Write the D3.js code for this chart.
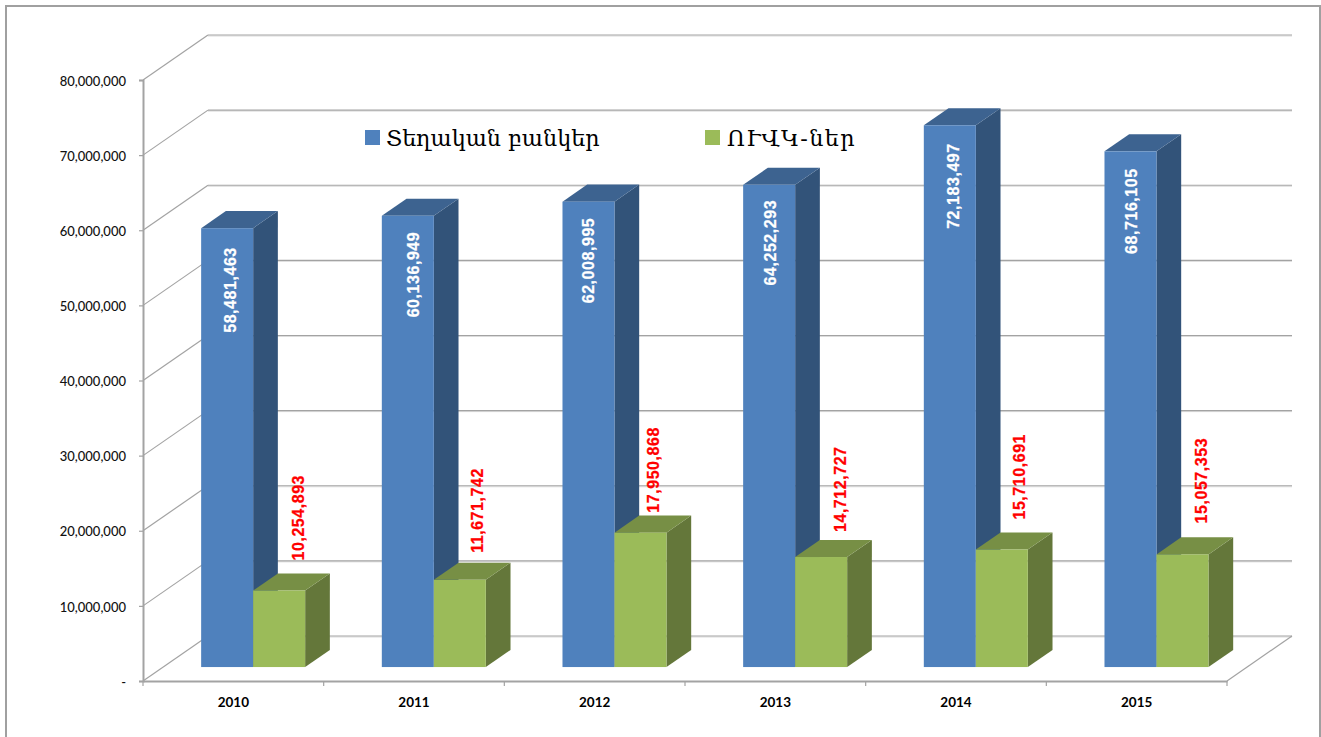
<!DOCTYPE html>
<html>
<head>
<meta charset="utf-8">
<script src="https://cdn.jsdelivr.net/npm/d3@7"></script>
<style>
  html, body { margin: 0; padding: 0; background: #fff; overflow: hidden; }
  svg { display: block; }
</style>
</head>
<body>
<div id="chart"></div>
<script>
const years = ['2010', '2011', '2012', '2013', '2014', '2015'];
const localBanks = [58481463, 60136949, 62008995, 64252293, 72183497, 68716105];
const foreignBanks = [10254893, 11671742, 17950868, 14712727, 15710691, 15057353];
const seriesNames = ['Տեղական բանկեր', 'ՈՒՎԿ-ներ'];
const yTicks = [0, 10000000, 20000000, 30000000, 40000000, 50000000, 60000000, 70000000, 80000000];

const svg = d3.select('#chart').append('svg')
  .attr('width', 1321)
  .attr('height', 737);

// Scales. The depth scale gives the oblique shift of the 3D box
const y = d3.scaleLinear().domain([0, 80000000]).range([681, 80]);
const x = d3.scaleBand().domain(years).range([143, 1227]).paddingInner(0).paddingOuter(0);
const depthX = d3.scaleLinear().domain([0, 1]).range([0, 65]);
const depthY = d3.scaleLinear().domain([0, 1]).range([0, -45]);

const gridColor = '#a3a3a3';
const barWidth = 52;
const zFront = 0.31, zBack = 0.69;

// Outer frame, runs off the bottom of the page
svg.append('path')
  .attr('d', 'M6,740V6H1320V740')
  .attr('fill', 'none')
  .attr('stroke', '#a0a0a0')
  .attr('stroke-width', 2);

// Back wall gridlines with the diagonal on the side wall
yTicks.forEach(t => {
  const backY = y(t) + depthY(1);
  const backX = 143 + depthX(1);
  svg.append('line')
    .attr('x1', backX).attr('x2', 1227 + depthX(1))
    .attr('y1', backY + 1).attr('y2', backY + 1)
    .attr('stroke', '#dcdcdc').attr('stroke-width', 1);
  svg.append('line')
    .attr('x1', backX).attr('x2', 1227 + depthX(1))
    .attr('y1', backY).attr('y2', backY)
    .attr('stroke', gridColor).attr('stroke-width', 1.2);
  svg.append('line')
    .attr('x1', 143).attr('x2', backX)
    .attr('y1', y(t)).attr('y2', backY)
    .attr('stroke', gridColor).attr('stroke-width', 1.2);
});

// Right edge of the floor
svg.append('line')
  .attr('x1', 1227).attr('y1', y(0))
  .attr('x2', 1227 + depthX(1)).attr('y2', y(0) + depthY(1))
  .attr('stroke', gridColor).attr('stroke-width', 1.2);

// Axes
const yAxis = svg.append('g')
  .attr('transform', 'translate(143,0)')
  .call(d3.axisLeft(y).tickValues(yTicks).tickSize(4).tickPadding(13)
    .tickFormat(d => d === 0 ? '-' : d3.format(',')(d)));
yAxis.selectAll('text')
  .attr('dy', '0.4em')
  .style('font-family', 'Lato, sans-serif')
  .style('font-size', '13px')
  .style('font-weight', 500)
  .attr('fill', '#111');

const xAxis = svg.append('g')
  .attr('transform', 'translate(0,681)')
  .call(d3.axisBottom(x).tickSizeOuter(0).tickSize(0).tickPadding(16));
xAxis.selectAll('text')
  .style('font-family', 'Lato, sans-serif')
  .style('font-size', '13.5px')
  .style('font-weight', 'bold')
  .attr('fill', '#000');
years.concat('end').forEach((d, i) => {
  const tx = 143 + i * x.step();
  xAxis.append('line')
    .attr('x1', tx).attr('x2', tx).attr('y1', 0).attr('y2', 5)
    .attr('stroke', gridColor).attr('stroke-width', 1.2);
});
svg.selectAll('.domain')
  .attr('stroke', gridColor).attr('stroke-width', 2);
yAxis.selectAll('.tick line').attr('stroke', gridColor).attr('stroke-width', 1.2);

// One 3D box: side, top, then front face
function box(left, value, colors) {
  const dx0 = depthX(zFront), dx1 = depthX(zBack);
  const dy0 = depthY(zFront), dy1 = depthY(zBack);
  const xl = left + dx0, xr = xl + barWidth;
  const shift = dx1 - dx0;
  const top = y(value) + dy0 + 0.5, bottom = y(0) + dy0;
  const rise = dy1 - dy0;
  const g = svg.append('g');
  g.append('path')
    .attr('d', `M${xr},${top}L${xr + shift},${top + rise}V${bottom + rise}L${xr},${bottom}Z`)
    .attr('fill', colors[2]);
  g.append('path')
    .attr('d', `M${xl},${top}L${xl + shift},${top + rise}H${xr + shift}L${xr},${top}Z`)
    .attr('fill', colors[1]);
  g.append('rect')
    .attr('x', xl).attr('y', top)
    .attr('width', barWidth).attr('height', bottom - top)
    .attr('fill', colors[0]);
  return { xl, xr, top };
}

const blue = ['#4f81bd', '#3d6390', '#325379'];
const green = ['#9bbb59', '#778f45', '#64773a'];
// Excel's auto layout moved the data labels a little per column
const whiteDrop = [19, 16, 16, 15, 18, 17];
const whiteShift = [34.5, 37.5, 32, 32.5, 34.7, 33];
const redLift = [30, 27, 20, 25, 30, 31];
const redShift = [50.5, 48.7, 45, 50.5, 48.7, 51];

function dataLabel(px, py, anchor, color, value) {
  svg.append('text')
    .attr('transform', `translate(${px},${py}) rotate(-90)`)
    .attr('text-anchor', anchor)
    .style('font-family', '"Liberation Sans", Arial, sans-serif')
    .style('font-size', '16px')
    .style('font-weight', 'bold')
    .style('letter-spacing', '0.55px')
    .style('stroke', color)
    .style('stroke-width', 0.25)
    .attr('fill', color)
    .text(d3.format(',')(value));
}

years.forEach((yr, i) => {
  const left = x(yr) + 38;
  const a = box(left, localBanks[i], blue);
  const b = box(left + barWidth, foreignBanks[i], green);
  dataLabel(a.xl + whiteShift[i], a.top + whiteDrop[i], 'end', '#fff', localBanks[i]);
  dataLabel(b.xl + redShift[i], b.top - redLift[i], 'start', '#ff0000', foreignBanks[i]);
});

// Legend
[[365, 386, blue[0], 0], [705, 727, green[0], 1.4]].forEach((d, i) => {
  svg.append('rect')
    .attr('x', d[0]).attr('y', 130)
    .attr('width', 15).attr('height', 15)
    .attr('fill', d[2]);
  svg.append('text')
    .attr('x', d[1]).attr('y', 146)
    .style('font-family', '"DejaVu Serif", serif')
    .style('font-size', '22.3px')
    .style('letter-spacing', d[3] + 'px')
    .attr('fill', '#000')
    .text(seriesNames[i]);
});
</script>
</body>
</html>
